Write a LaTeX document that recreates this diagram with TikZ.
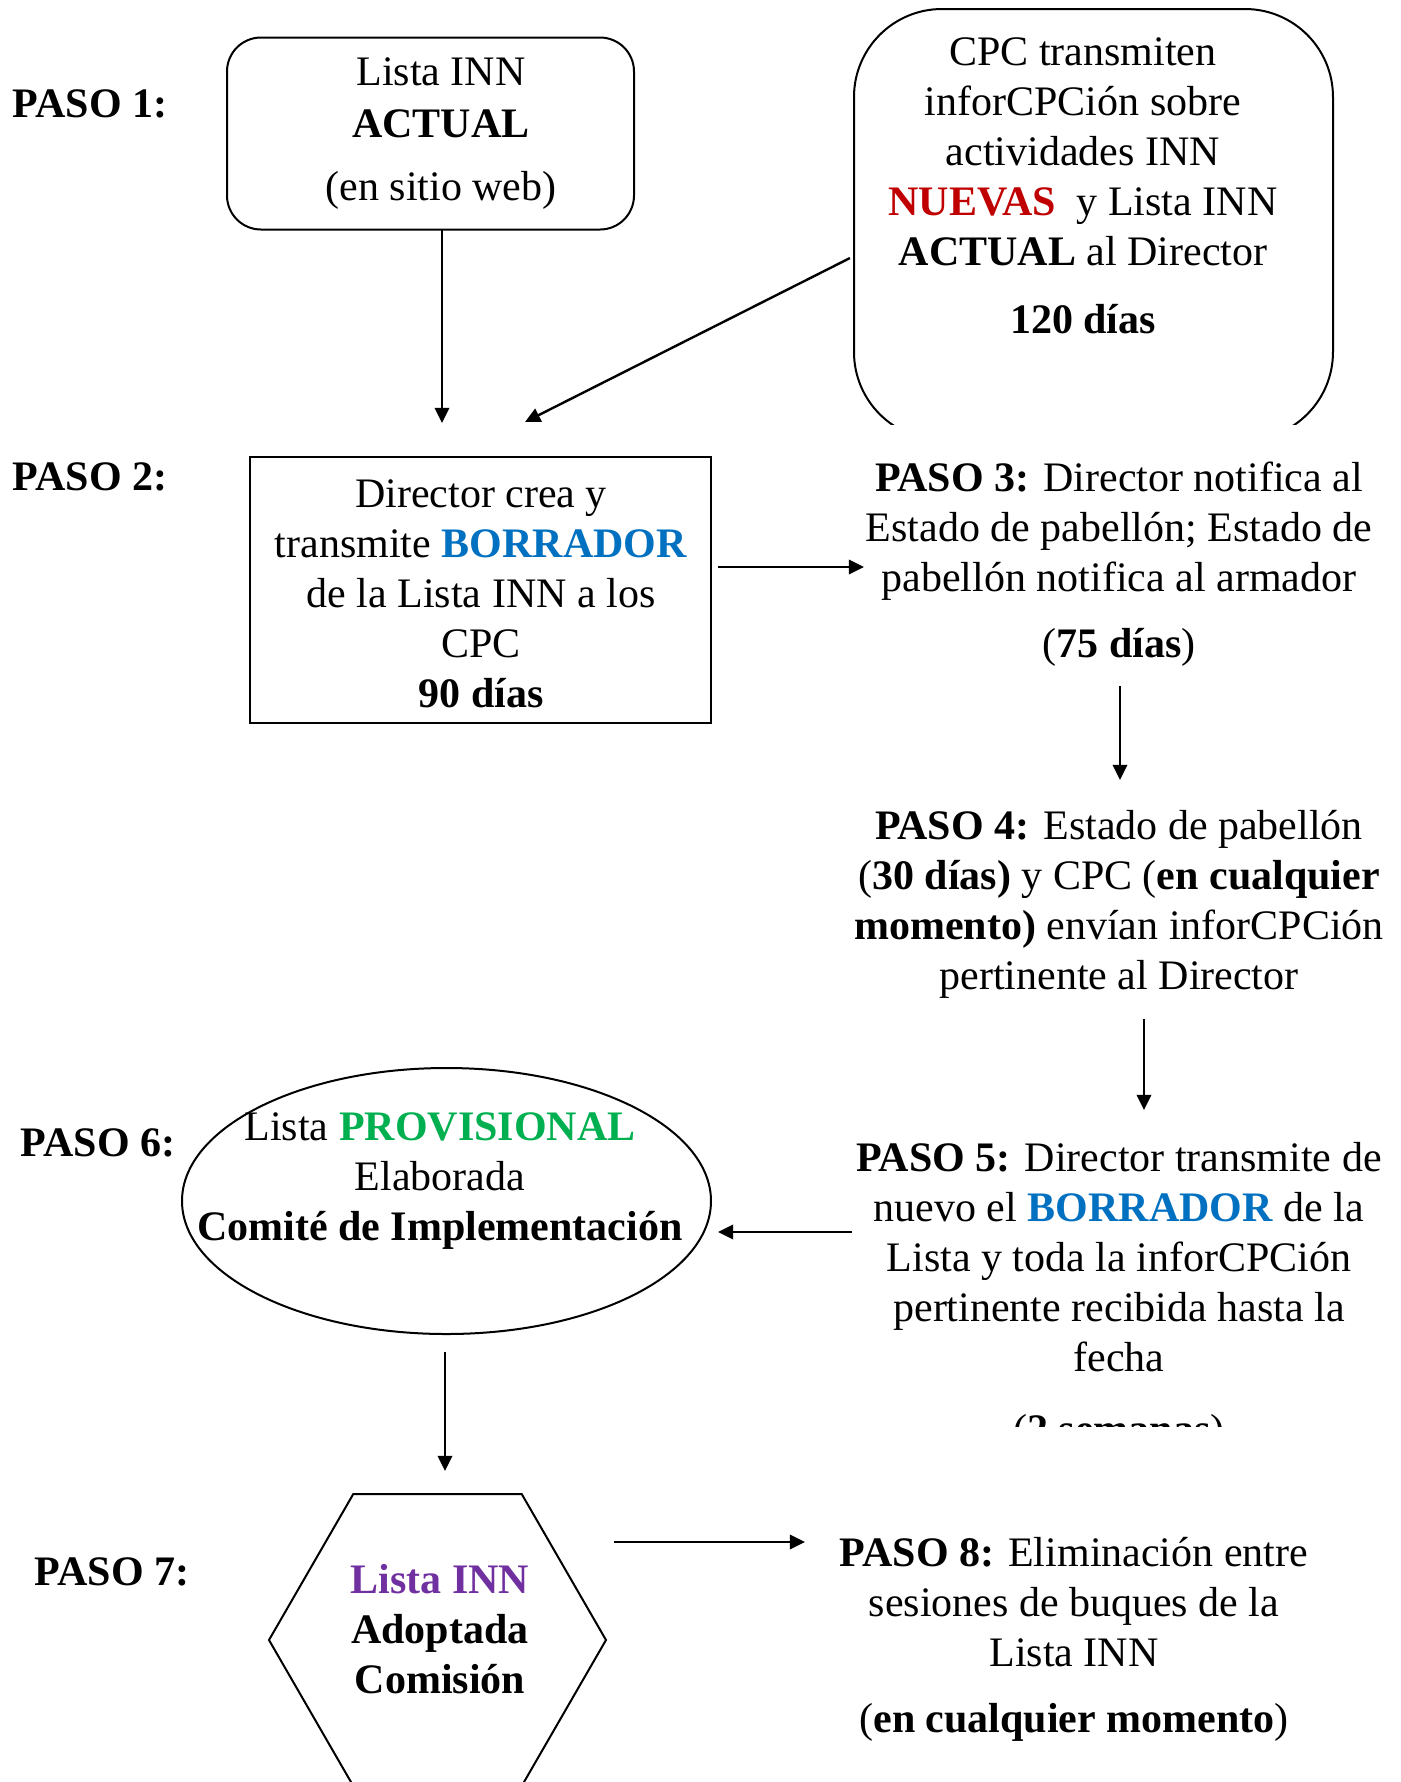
\documentclass[tikz,border=0pt]{standalone}
\usepackage{fontspec}
\setmainfont{Liberation Serif}
\usetikzlibrary{arrows.meta,shapes.geometric,calc}
\definecolor{nblue}{HTML}{0070C0}
\definecolor{nred}{HTML}{C00000}
\definecolor{ngreen}{HTML}{00B050}
\definecolor{npurple}{HTML}{7030A0}
\begin{document}
\begin{tikzpicture}[x=0.25pt,y=-0.25pt,
  shp/.style={draw, line width=0.5pt, inner sep=0pt, outer sep=0pt},
  rbox/.style={shp, rectangle},
  ell/.style={shp, ellipse},
  hexa/.style={shp, regular polygon, regular polygon sides=6},
  txt/.style={align=center, inner sep=0pt, font=\fontsize{10.5}{12.5}\selectfont},
  lbl/.style={txt, font=\fontsize{10.5}{12.5}\selectfont\bfseries},
  arr/.style={line width=0.6pt, -{Triangle[length=3.8pt,width=3.6pt]}}]
\fill[white] (0,0) rectangle (1401,1782);
\useasboundingbox (0,0) rectangle (1401,1782);

% shapes
\node[rbox, minimum width=101.75pt, minimum height=48pt, rounded corners=8.5pt] (b1) at (430.5,133.5) {};
\begin{scope}
  \clip (0,0) rectangle (1401,424);
  \node[rbox, minimum width=119.75pt, minimum height=107.75pt, rounded corners=22pt] (cpc) at (1093.5,224.5) {};
\end{scope}
\node[rbox, minimum width=115.25pt, minimum height=66.5pt] (b2) at (480.5,590) {};
\node[ell, minimum width=132.25pt, minimum height=66.5pt] (e6) at (446.5,1201) {};
\node[hexa, minimum size=84.25pt] (h7) at (437.5,1640) {};

% step labels
\node[lbl] (l1) at (90,104) {PASO 1:};
\node[lbl] (l2) at (90,477) {PASO 2:};
\node[lbl] (l6) at (98,1143) {PASO 6:};
\node[lbl] (l7) at (112,1572) {PASO 7:};

% texts
\node[txt] (t1) at (441,133.5) {Lista INN\\[0.5pt]\textbf{ACTUAL}\\[3.25pt](en sitio web)};
\node[txt] (t2) at (1083,185.7) {CPC transmiten\\ inforCPCión sobre\\ actividades INN\\ \textcolor{nred}{\textbf{NUEVAS}}\ \ y Lista INN\\ \textbf{ACTUAL} al Director\\[4.5pt]\textbf{120 días}};
\node[txt] (t3) at (481,593.7) {Director crea y\\ transmite \textcolor{nblue}{\textbf{BORRADOR}}\\ de la Lista INN a los\\ CPC\\ \textbf{90 días}};
\node[txt] (p3) at (1119,564) {\textbf{PASO 3:} Director notifica al\\ Estado de pabellón; Estado de\\ pabellón notifica al armador\\[4pt] (\textbf{75 días})};
\node[txt] (p4) at (1119,904) {\textbf{PASO 4:} Estado de pabellón\\ (\textbf{30 días)} y CPC (\textbf{en cualquier}\\ \textbf{momento)} envían inforCPCión\\ pertinente al Director};
\begin{scope}
  \clip (0,0) rectangle (1401,1426);
  \node[txt] (p5) at (1119,1297) {\textbf{PASO 5:} Director transmite de\\ nuevo el \textcolor{nblue}{\textbf{BORRADOR}} de la\\ Lista y toda la inforCPCión\\ pertinente recibida hasta la\\ fecha\\[5.5pt] (\textbf{2 semanas})};
\end{scope}
\node[txt] (t6) at (440,1181.3) {Lista \textcolor{ngreen}{\textbf{PROVISIONAL}}\\ Elaborada\\ \textbf{Comité de Implementación}};
\node[txt] (t7) at (440,1628.7) {\textcolor{npurple}{\textbf{Lista INN}}\\ \textbf{Adoptada}\\ \textbf{Comisión}};
\node[txt] (p8) at (1074,1639.3) {\textbf{PASO 8:} Eliminación entre\\ sesiones de buques de la\\ Lista INN\\[4pt] (\textbf{en cualquier momento})};

% connectors
\coordinate (a1) at (442,423);
\draw[arr] (b1.south -| a1) -- (a1);
\coordinate (a2) at (525,422);
\draw[arr] ($(cpc.west)+(-4,33.5)$) -- (a2);
\coordinate (a3) at (864,567);
\draw[arr] ($(b2.east |- a3)+(7,0)$) -- (a3);
\coordinate (a4) at (1120,780);
\draw[arr] ($(p3.south -| a4)+(0,19)$) -- (a4);
\coordinate (a5) at (1144,1110);
\draw[arr] ($(p4.south -| a5)+(0,20)$) -- (a5);
\coordinate (a6) at (718,1232);
\draw[arr] ($(p5.west |- a6)+(-4,0)$) -- (a6);
\coordinate (a7) at (445,1471);
\draw[arr] ($(e6.south -| a7)+(0,18)$) -- (a7);
\coordinate (a8) at (805,1542);
\draw[arr] ($(h7.east |- a8)+(8,0)$) -- (a8);
\end{tikzpicture}
\end{document}
